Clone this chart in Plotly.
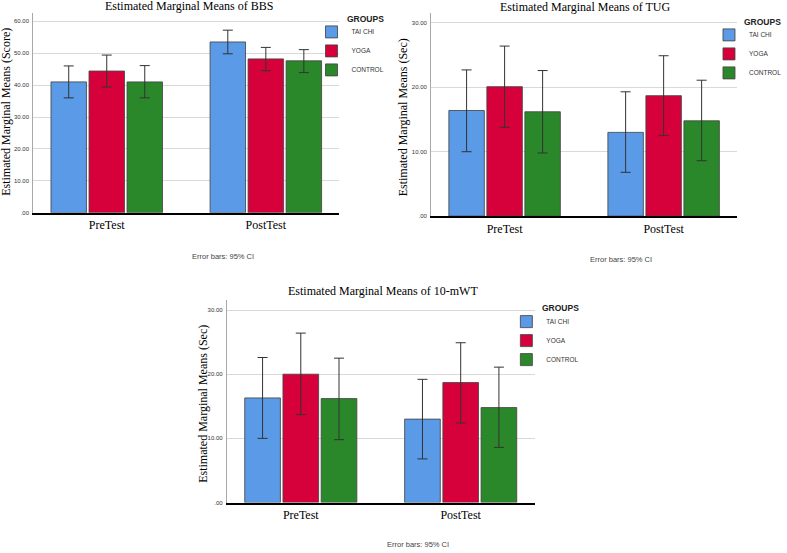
import plotly.graph_objects as go

# ---------------- data ----------------
categories = ["PreTest", "PostTest"]
groups = ["TAI CHI", "YOGA", "CONTROL"]
group_colors = ["#5A9AE6", "#D6003A", "#2A882A"]

# rows = groups (TAI CHI, YOGA, CONTROL), cols = categories (PreTest, PostTest)
bbs_mean = [[41.0, 53.5], [44.4, 48.2], [41.0, 47.6]]
bbs_upper = [[46.0, 57.2], [49.4, 51.8], [46.1, 51.1]]
bbs_lower = [[36.0, 49.8], [39.4, 44.5], [36.0, 43.9]]

tug_mean = [[16.4, 13.0], [20.1, 18.7], [16.2, 14.8]]
tug_upper = [[22.7, 19.3], [26.4, 24.9], [22.6, 21.1]]
tug_lower = [[10.0, 6.8], [13.8, 12.5], [9.8, 8.6]]

mwt_mean = [[16.3, 13.0], [20.0, 18.7], [16.2, 14.8]]
mwt_upper = [[22.6, 19.2], [26.4, 24.9], [22.5, 21.1]]
mwt_lower = [[10.0, 6.8], [13.7, 12.4], [9.8, 8.6]]

bbs_ticks = [0, 10, 20, 30, 40, 50, 60]
bbs_ticktext = [".00", "10.00", "20.00", "30.00", "40.00", "50.00", "60.00"]
sec_ticks = [0, 10, 20, 30]
sec_ticktext = [".00", "10.00", "20.00", "30.00"]

# ---------------- layout helpers ----------------
W, H = 787, 553
def px(x):
    return x / W
def py(y):
    return 1 - y / H

SERIF = "Liberation Serif, Times New Roman, serif"
SANS = "Liberation Sans, Arial, sans-serif"

fig = go.Figure()

panels = [
    # (mean, upper, lower, xaxis, yaxis, legend)
    (bbs_mean, bbs_upper, bbs_lower, "x", "y", "legend"),
    (tug_mean, tug_upper, tug_lower, "x2", "y2", "legend2"),
    (mwt_mean, mwt_upper, mwt_lower, "x3", "y3", "legend3"),
]

for mean, upper, lower, xa, ya, lg in panels:
    for gi, g in enumerate(groups):
        m = mean[gi]
        up = [u - v for u, v in zip(upper[gi], m)]
        dn = [v - l for v, l in zip(m, lower[gi])]
        fig.add_trace(go.Bar(
            x=categories, y=m, name=g,
            xaxis=xa, yaxis=ya, legend=lg,
            offsetgroup=str(gi),
            marker=dict(color=group_colors[gi],
                        line=dict(color="rgba(70,70,70,0.85)", width=1)),
            error_y=dict(type="data", symmetric=False, array=up, arrayminus=dn,
                         color="#333333", thickness=1, width=5),
        ))

def xaxis_cfg(domain, anchor):
    return dict(domain=domain, anchor=anchor, type="category",
                range=[-0.4625, 1.4625], showline=True, linecolor="black",
                linewidth=2, ticks="", showgrid=False, zeroline=False,
                tickfont=dict(family=SERIF, size=12, color="black"),
                fixedrange=True)

def yaxis_cfg(domain, anchor, rng, tv, tt):
    return dict(domain=domain, anchor=anchor, range=rng, tickvals=tv,
                ticktext=tt, showline=True, linecolor="#a8a8a8", linewidth=1,
                showgrid=True, gridcolor="#d9d9d9", gridwidth=1,
                zeroline=False, ticks="", ticklabelstandoff=2,
                tickfont=dict(family=SANS, size=6, color="#333333"),
                fixedrange=True)

legend_common = dict(bgcolor="rgba(0,0,0,0)", borderwidth=0,
                     font=dict(family=SANS, size=6.5, color="#333333"),
                     xanchor="left", yanchor="top", tracegroupgap=0,
                     itemclick=False, itemdoubleclick=False)

fig.update_layout(
    width=W, height=H,
    margin=dict(l=0, r=0, t=0, b=0),
    paper_bgcolor="white", plot_bgcolor="white",
    barmode="group", bargap=0.283, bargroupgap=0.067,
    xaxis=xaxis_cfg([px(33.3), px(340.7)], "y"),
    yaxis=yaxis_cfg([py(214), py(13.3)], "x", [0, 62.5], bbs_ticks, bbs_ticktext),
    xaxis2=xaxis_cfg([px(432.7), px(740)], "y2"),
    yaxis2=yaxis_cfg([py(217.3), py(13.3)], "x2", [0, 31.5], sec_ticks, sec_ticktext),
    xaxis3=xaxis_cfg([px(227.7), px(536.7)], "y3"),
    yaxis3=yaxis_cfg([py(505.3), py(301.7)], "x3", [0, 31.55], sec_ticks, sec_ticktext),
    legend=dict(x=px(312.7), y=py(17.5), **legend_common),
    legend2=dict(x=px(711.7), y=py(20.5), **legend_common),
    legend3=dict(x=px(508.3), y=py(308.8), **legend_common),
    showlegend=True,
)

annotations = []
def note(text, x, y, size, family, color="black", angle=0, xanchor="center", bold=False):
    annotations.append(dict(
        text=("<b>%s</b>" % text) if bold else text,
        x=px(x), y=py(y), xref="paper", yref="paper",
        xanchor=xanchor, yanchor="middle", showarrow=False, textangle=angle,
        font=dict(family=family, size=size, color=color)))

# titles
note("Estimated Marginal Means of BBS", 190, 6, 12, SERIF)
note("Estimated Marginal Means of TUG", 587.5, 7, 12, SERIF)
note("Estimated Marginal Means of 10-mWT", 384, 292.5, 12, SERIF)
# y-axis titles
note("Estimated Marginal Means (Score)", 6, 112.5, 12, SERIF, angle=-90)
note("Estimated Marginal Means (Sec)", 404, 117.5, 12, SERIF, angle=-90)
note("Estimated Marginal Means (Sec)", 203, 405.8, 12, SERIF, angle=-90)
# legend headers
note("GROUPS", 346.7, 19, 8.5, SANS, "#222222", xanchor="left", bold=True)
note("GROUPS", 745, 21.7, 8.5, SANS, "#222222", xanchor="left", bold=True)
note("GROUPS", 541.7, 310, 8.5, SANS, "#222222", xanchor="left", bold=True)
# error bar notes
note("Error bars: 95% CI", 224, 258, 7.5, SANS, "#444444")
note("Error bars: 95% CI", 623.5, 261, 7.5, SANS, "#444444")
note("Error bars: 95% CI", 419.5, 547, 7.5, SANS, "#444444")

fig.update_layout(annotations=annotations)

fig.write_html("out.html",
               config={"displayModeBar": False},
               post_script="document.body.style.margin='0';document.body.style.padding='0';")
